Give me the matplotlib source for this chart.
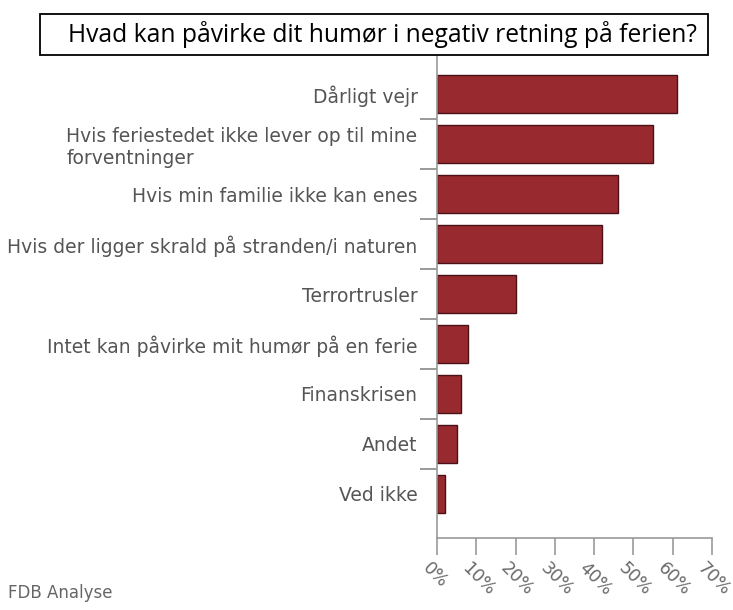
import matplotlib.pyplot as plt
import matplotlib.transforms as mtransforms
from matplotlib.patches import Rectangle

# Survey answers (share of respondents, %)
categories = [
    "Dårligt vejr",
    "Hvis feriestedet ikke lever op til mine\nforventninger",
    "Hvis min familie ikke kan enes",
    "Hvis der ligger skrald på stranden/i naturen",
    "Terrortrusler",
    "Intet kan påvirke mit humør på en ferie",
    "Finanskrisen",
    "Andet",
    "Ved ikke",
]
values = [61, 55, 46, 42, 20, 8, 6, 5, 2]
xticks = [0, 10, 20, 30, 40, 50, 60, 70]
xtick_labels = ["0%", "10%", "20%", "30%", "40%", "50%", "60%", "70%"]

W, H = 733, 610
fig = plt.figure(figsize=(W / 100, H / 100), dpi=100)

ax = fig.add_axes([437 / W, 1 - 538 / H, 275 / W, 482 / H])
pos = list(range(len(categories)))
ax.barh(pos, values, height=0.75, color="#982a2f", edgecolor="#4a1216", linewidth=1)

ax.set_xlim(0, 70)
ax.set_ylim(8.88, -0.76)

# labels at bar centres, tick marks at the category boundaries
ax.set_yticks(pos)
ax.set_yticklabels(categories, fontsize=13.5, color="#555555")
for lab in ax.get_yticklabels():
    lab.set_multialignment("left")
ax.tick_params(axis="y", which="major", length=0, pad=14)
ax.set_yticks([p + 0.5 for p in pos[:-1]], minor=True)
ax.tick_params(axis="y", which="minor", length=12, width=1.2, color="#888888")

ax.set_xticks(xticks)
ax.set_xticklabels(xtick_labels, fontsize=12.5, color="#6a6a6a",
                   rotation=-45, ha="left", va="center", rotation_mode="anchor")
ax.tick_params(axis="x", length=12, width=1.2, color="#999999", pad=8)
shift = mtransforms.ScaledTranslation(-12 / 100, 0, fig.dpi_scale_trans)
for lab in ax.get_xticklabels():
    lab.set_transform(lab.get_transform() + shift)

for side in ["top", "right"]:
    ax.spines[side].set_visible(False)
for side in ["left", "bottom"]:
    ax.spines[side].set_color("#999999")
    ax.spines[side].set_linewidth(1.2)

# title box
fig.patches.append(Rectangle((40 / W, 1 - 55 / H), 668 / W, 41 / H,
                             transform=fig.transFigure, fill=False,
                             edgecolor="black", linewidth=1.3))
fig.text(68 / W, 1 - 35 / H, "Hvad kan påvirke dit humør i negativ retning på ferien?",
         fontsize=17.7, family="Open Sans", va="center", ha="left")

fig.text(8 / W, 1 - 598 / H, "FDB Analyse", fontsize=12, color="#666666", va="baseline")

plt.savefig("out.png", dpi=100)
